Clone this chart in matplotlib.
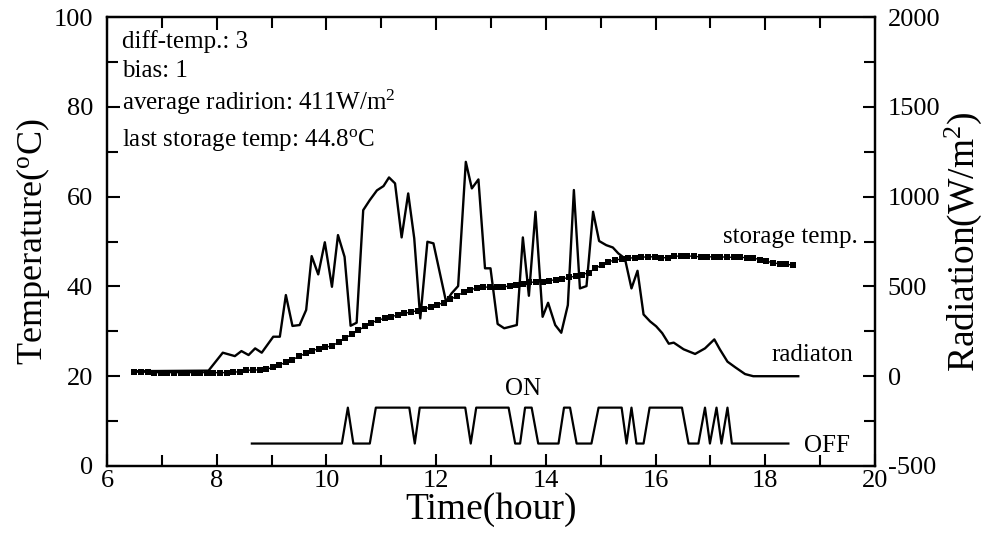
import numpy as np
import matplotlib
matplotlib.use("Agg")
import matplotlib.pyplot as plt
from matplotlib.ticker import MultipleLocator

plt.rcParams['font.family'] = ['Liberation Serif', 'DejaVu Serif']
plt.rcParams['mathtext.fontset'] = 'custom'
plt.rcParams['mathtext.rm'] = 'Liberation Serif'
plt.rcParams['mathtext.it'] = 'Liberation Serif:italic'
plt.rcParams['axes.unicode_minus'] = False

# storage temperature (left axis, deg C), sampled every 0.12 h from 6.5 h
storage_start = 6.5
storage_step = 0.12
storage_temp = [
    20.9, 20.9, 20.9, 20.8, 20.8, 20.8, 20.8, 20.8, 20.8, 20.8,
    20.8, 20.8, 20.8, 20.8, 20.8, 20.9, 21.0, 21.3, 21.4, 21.4,
    21.5, 22.0, 22.5, 23.1, 23.7, 24.4, 25.1, 25.7, 26.1, 26.5,
    26.7, 27.6, 28.5, 29.3, 30.2, 31.1, 31.9, 32.5, 32.9, 33.3,
    33.6, 34.0, 34.3, 34.6, 35.0, 35.4, 35.9, 36.4, 37.1, 37.9,
    38.7, 39.2, 39.7, 39.8, 39.9, 39.9, 39.9, 40.1, 40.3, 40.6,
    40.9, 41.0, 41.1, 41.3, 41.5, 41.7, 42.0, 42.3, 42.6, 43.1,
    44.0, 44.8, 45.5, 45.9, 46.1, 46.3, 46.4, 46.5, 46.6, 46.6,
    46.4, 46.4, 46.7, 46.8, 46.8, 46.7, 46.6, 46.6, 46.6, 46.6,
    46.5, 46.5, 46.5, 46.4, 46.3, 46.0, 45.6, 45.3, 45.0, 44.9,
    44.8,
]
storage_time = storage_start + storage_step * np.arange(len(storage_temp))

# radiation (right axis, W/m2)
rad_time = [
    6.50, 7.85, 8.11, 8.33, 8.45, 8.58, 8.70, 8.82, 9.03, 9.15,
    9.26, 9.38, 9.51, 9.63, 9.73, 9.85, 9.97, 10.10, 10.21, 10.33,
    10.44, 10.55, 10.67, 10.79, 10.92, 11.04, 11.14, 11.25, 11.37, 11.49,
    11.60, 11.71, 11.84, 11.95, 12.18, 12.28, 12.40, 12.54, 12.65, 12.77,
    12.89, 12.99, 13.12, 13.24, 13.47, 13.58, 13.69, 13.81, 13.94, 14.04,
    14.17, 14.28, 14.40, 14.51, 14.62, 14.74, 14.86, 14.97, 15.10, 15.22,
    15.32, 15.44, 15.56, 15.67, 15.78, 15.90, 16.01, 16.12, 16.24, 16.33,
    16.51, 16.72, 16.90, 17.07, 17.17, 17.31, 17.45, 17.63, 17.78, 18.02,
    18.60,
]
radiation = [
    28, 31, 131, 112, 140, 118, 155, 131, 220, 220,
    452, 280, 285, 369, 669, 567, 746, 498, 786, 665,
    281, 298, 925, 981, 1035, 1059, 1107, 1074, 773, 1018,
    768, 322, 749, 740, 415, 461, 502, 1194, 1046, 1096,
    601, 601, 291, 267, 285, 773, 448, 916, 331, 409,
    285, 242, 396, 1037, 489, 502, 916, 753, 730, 717,
    684, 656, 489, 587, 344, 305, 278, 240, 181, 187,
    150, 124, 155, 205, 150, 81, 50, 12, 0, 0,
    0,
]

# pump ON/OFF signal (drawn on the temperature scale)
on_level = 13
off_level = 5
pump_time = [
    8.64, 10.28, 10.39, 10.49, 10.79, 10.90, 11.51, 11.61, 11.70, 12.53,
    12.63, 12.73, 13.32, 13.44, 13.53, 13.62, 13.74, 13.86, 14.23, 14.33,
    14.44, 14.56, 14.83, 14.96, 15.38, 15.47, 15.56, 15.65, 15.78, 15.89,
    16.48, 16.60, 16.78, 16.90, 16.99, 17.11, 17.20, 17.31, 17.39, 18.42,
]
pump_state = [
    0, 0, 1, 0, 0, 1, 1, 0, 1, 1,
    0, 1, 1, 0, 0, 1, 1, 0, 0, 1,
    1, 0, 0, 1, 1, 0, 1, 0, 0, 1,
    1, 0, 0, 1, 0, 1, 0, 1, 0, 0,
]
pump_level = [on_level if s else off_level for s in pump_state]

fig = plt.figure(figsize=(9.91, 5.35), dpi=100)
ax = fig.add_axes([0.108, 0.129, 0.775, 0.839])
ax2 = ax.twinx()

ax.plot(storage_time, storage_temp, color='black', lw=1.0, marker='s',
        markersize=4.6, markeredgewidth=0, linestyle='-')
ax.plot(pump_time, pump_level, color='black', lw=1.6)
ax2.plot(rad_time, radiation, color='black', lw=1.7)

ax.set_xlim(6, 20)
ax.set_ylim(0, 100)
ax2.set_ylim(-500, 2000)

ax.xaxis.set_major_locator(MultipleLocator(2))
ax.xaxis.set_minor_locator(MultipleLocator(1))
ax.yaxis.set_major_locator(MultipleLocator(20))
ax.yaxis.set_minor_locator(MultipleLocator(10))
ax2.yaxis.set_major_locator(MultipleLocator(500))
ax2.yaxis.set_minor_locator(MultipleLocator(250))

ax.tick_params(axis='both', which='both', direction='in', width=1.5,
               top=True, right=False, labelsize=19)
ax.tick_params(which='major', length=9)
ax.tick_params(which='minor', length=8)
ax2.tick_params(axis='y', which='both', direction='in', width=1.5,
                labelsize=19)
ax2.tick_params(which='major', length=9)
ax2.tick_params(which='minor', length=8)
ax.tick_params(axis='x', pad=3)
ax2.tick_params(axis='y', pad=9)
ax.tick_params(axis='y', pad=10)

for a in (ax, ax2):
    for sp in a.spines.values():
        sp.set_linewidth(1.6)

ax.set_xlabel('Time(hour)', fontsize=27, labelpad=0)
ax.set_ylabel(r'Temperature($^{\rm o}$C)', fontsize=26, labelpad=1)
ax2.set_ylabel(r'Radiation(W/m$^{2}$)', fontsize=27, labelpad=2)

tkw = dict(fontsize=18, color='black', va='baseline')
ax.text(6.27, 93.1, 'diff-temp.: 3', **tkw)
ax.text(6.27, 86.6, 'bias: 1', **tkw)
ax.text(6.27, 79.3, r'average radirion: 411W/m$^{2}$', **tkw)
ax.text(6.27, 71.3, r'last storage temp: 44.8$^{\rm o}$C', **tkw)

ax.text(19.69, 49.7, 'storage temp.', ha='right', **tkw)
ax.text(19.6, 23.4, 'radiaton', ha='right', **tkw)
ax.text(19.55, 3.1, 'OFF', ha='right', **tkw)
ax.text(13.58, 15.8, 'ON', ha='center', **tkw)

fig.savefig('out.png', dpi=100)
